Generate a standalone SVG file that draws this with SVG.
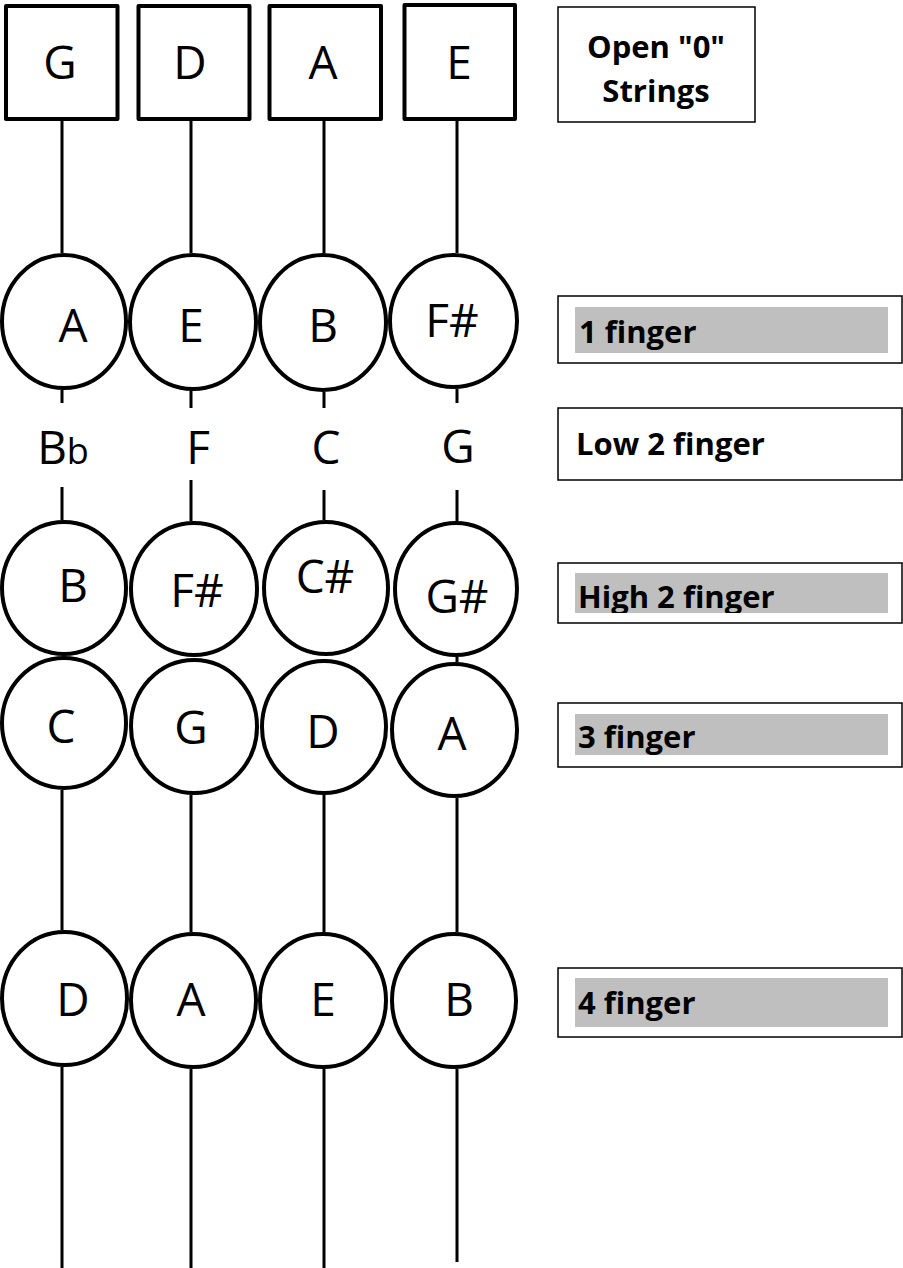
<svg xmlns="http://www.w3.org/2000/svg" width="903" height="1268" viewBox="0 0 903 1268">
<style>
.sq{fill:#fff;stroke:#000;stroke-width:4;stroke-linejoin:round}
.nt{fill:#fff;stroke:#000;stroke-width:4}
.ln{stroke:#000;stroke-width:3;fill:none}
.lab{fill:#fff;stroke:#000;stroke-width:1.5}
.hl{fill:#bfbfbf}
.n{font-family:"Open Sans","Noto Sans",sans-serif;font-size:46px;fill:#000;text-anchor:middle}
.b{font-family:"Open Sans","Noto Sans",sans-serif;font-weight:bold;font-size:31px;fill:#000}
</style>
<defs>
<clipPath id="c0"><rect x="558" y="7" width="197" height="103"/></clipPath>
<clipPath id="c1"><rect x="575" y="307" width="313" height="46"/></clipPath>
<clipPath id="c3"><rect x="575" y="573" width="313" height="40"/></clipPath>
<clipPath id="c4"><rect x="575" y="714" width="313" height="41"/></clipPath>
<clipPath id="c5"><rect x="575" y="978" width="313" height="49"/></clipPath>
</defs>
<g id="connectors">
<path class="ln" d="M62 121V253M62 390V403M62 487V520M62 790V930M62 1067V1268"/>
<path class="ln" d="M191 121V253M191 391V408M191 480V521M191 795V932M191 1069V1268"/>
<path class="ln" d="M324 121V253M324 392V408M324 490V520M324 795V932M324 1069V1268"/>
<path class="ln" d="M457 121V253M457 389V403M457 490V521M457 657V662M457 798V932M457 1069V1262"/>
</g>
<g id="open-G"><rect class="sq" x="6" y="6" width="111.5" height="113"/><text class="n" x="60" y="79">G</text></g>
<g id="open-D"><rect class="sq" x="138.5" y="6" width="111" height="113"/><text class="n" x="190" y="79">D</text></g>
<g id="open-A"><rect class="sq" x="269.5" y="6" width="111.5" height="113"/><text class="n" x="323" y="79">A</text></g>
<g id="open-E"><rect class="sq" x="404.5" y="5" width="110.5" height="114"/><text class="n" x="459" y="79">E</text></g>

<g id="f1-A"><ellipse class="nt" cx="64" cy="321.5" rx="62" ry="66.5"/><text class="n" x="73" y="342">A</text></g>
<g id="f1-E"><ellipse class="nt" cx="193" cy="322" rx="63" ry="67"/><text class="n" x="191" y="342">E</text></g>
<g id="f1-B"><ellipse class="nt" cx="323" cy="322.5" rx="63" ry="67.5"/><text class="n" x="323" y="342">B</text></g>
<g id="f1-Fs"><ellipse class="nt" cx="453.5" cy="321" rx="63.5" ry="66"/><text class="n" x="452" y="337" font-size="40">F#</text></g>

<g id="low2-Bb"><text class="n" x="63" y="464" font-size="45">B<tspan font-size="36">b</tspan></text></g>
<g id="low2-F"><text class="n" x="198" y="464">F</text></g>
<g id="low2-C"><text class="n" x="326" y="464">C</text></g>
<g id="low2-G"><text class="n" x="458" y="463">G</text></g>

<g id="h2-B"><ellipse class="nt" cx="64" cy="588" rx="62" ry="66"/><text class="n" x="73" y="602">B</text></g>
<g id="h2-Fs"><ellipse class="nt" cx="194" cy="589" rx="63" ry="66"/><text class="n" x="197" y="607" font-size="40">F#</text></g>
<g id="h2-Cs"><ellipse class="nt" cx="326" cy="588" rx="62" ry="66"/><text class="n" x="325" y="593" font-size="36">C#</text></g>
<g id="h2-Gs"><ellipse class="nt" cx="456" cy="589" rx="61" ry="66"/><text class="n" x="457" y="613" font-size="36">G#</text></g>

<g id="f3-C"><ellipse class="nt" cx="64" cy="723" rx="62" ry="65"/><text class="n" x="61" y="743">C</text></g>
<g id="f3-G"><ellipse class="nt" cx="194" cy="726.5" rx="63" ry="66.5"/><text class="n" x="191" y="744">G</text></g>
<g id="f3-D"><ellipse class="nt" cx="324" cy="727" rx="62" ry="66"/><text class="n" x="323" y="748">D</text></g>
<g id="f3-A"><ellipse class="nt" cx="454.5" cy="730" rx="62.5" ry="66"/><text class="n" x="452" y="750" font-size="42">A</text></g>

<g id="f4-D"><ellipse class="nt" cx="64.5" cy="998.5" rx="62.5" ry="66.5"/><text class="n" x="73" y="1016">D</text></g>
<g id="f4-A"><ellipse class="nt" cx="193.5" cy="1000.5" rx="62.5" ry="66.5"/><text class="n" x="191" y="1016">A</text></g>
<g id="f4-E"><ellipse class="nt" cx="323" cy="1000.5" rx="63" ry="66.5"/><text class="n" x="323" y="1016">E</text></g>
<g id="f4-B"><ellipse class="nt" cx="454" cy="1000.5" rx="62" ry="66.5"/><text class="n" x="459" y="1016">B</text></g>

<g id="label-open"><rect class="lab" x="558" y="7" width="197" height="115"/>
<g clip-path="url(#c0)"><text class="b" x="656" y="58" text-anchor="middle">Open "0"</text><text class="b" x="656" y="102" text-anchor="middle">Strings</text></g></g>
<g id="label-1"><rect class="lab" x="558" y="296" width="344" height="67"/><rect class="hl" x="575" y="307" width="313" height="46"/><text class="b" x="579" y="343" clip-path="url(#c1)">1 finger</text></g>
<g id="label-low2"><rect class="lab" x="558" y="408" width="344" height="72"/><text class="b" x="576" y="455">Low 2 finger</text></g>
<g id="label-high2"><rect class="lab" x="558" y="563" width="344" height="60"/><rect class="hl" x="575" y="573" width="313" height="40"/><text class="b" x="578" y="608" clip-path="url(#c3)">High 2 finger</text></g>
<g id="label-3"><rect class="lab" x="558" y="703" width="344" height="64"/><rect class="hl" x="575" y="714" width="313" height="41"/><text class="b" x="578" y="748" clip-path="url(#c4)">3 finger</text></g>
<g id="label-4"><rect class="lab" x="558" y="968" width="344" height="69"/><rect class="hl" x="575" y="978" width="313" height="49"/><text class="b" x="578" y="1014" clip-path="url(#c5)">4 finger</text></g>
</svg>
